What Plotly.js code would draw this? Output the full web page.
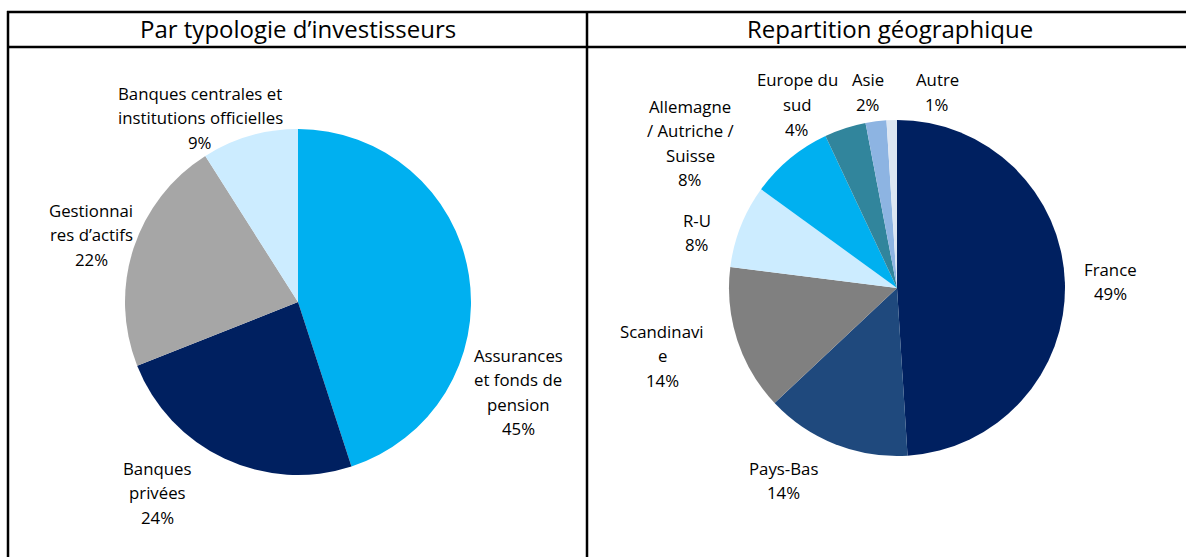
<!DOCTYPE html>
<html>
<head>
<meta charset="utf-8">
<script src="https://cdn.plot.ly/plotly-3.0.1.min.js"></script>
<style>html,body{margin:0;padding:0;background:#fff;}#chart{width:1186px;height:557px;}</style>
</head>
<body>
<div id="chart"></div>
<script>
// Left pie: by investor type
const investorLabels = ["Assurances et fonds de pension", "Banques privées", "Gestionnaires d’actifs", "Banques centrales et institutions officielles"];
const investorValues = [45, 24, 22, 9];
const investorColors = ["#00B0F0", "#002060", "#A6A6A6", "#CCECFF"];
const investorText = [["Assurances", "et fonds de", "pension", "45%"], ["Banques", "privées", "24%"], ["Gestionnai", "res d’actifs", "22%"], ["Banques centrales et", "institutions officielles", "9%"]];

// Right pie: geographic split
const geoLabels = ["France", "Pays-Bas", "Scandinavie", "R-U", "Allemagne / Autriche / Suisse", "Europe du sud", "Asie", "Autre"];
const geoValues = [49, 14, 14, 8, 8, 4, 2, 1];
const geoColors = ["#002060", "#1F497D", "#808080", "#CCECFF", "#00B0F0", "#31859C", "#8DB4E2", "#DCE6F2"];
const geoText = [["France", "49%"], ["Pays-Bas", "14%"], ["Scandinavi", "e", "14%"], ["R-U", "8%"], ["Allemagne", "/ Autriche /", "Suisse", "8%"], ["Europe du", "sud", "4%"], ["Asie", "2%"], ["Autre", "1%"]];

const titles = ["Par typologie d’investisseurs", "Repartition géographique"];

const W = 1186, H = 557;
const font = "'Open Sans', sans-serif";
const LH = 24.5;

// label anchor positions (pixels, centre of first line) – layout only
const investorPos = [[518, 355], [157, 468], [91, 210], [200, 93]];
const geoPos = [[1110, 269], [784, 468], [662, 331], [697, 220], [690, 106], [797, 80], [868, 80], [937, 80]];

function px(x) { return x / W; }
function py(y) { return 1 - y / H; }

const traces = [
  {
    type: "pie", values: investorValues, labels: investorLabels, sort: false,
    direction: "clockwise", rotation: 0, textinfo: "none", hoverinfo: "skip",
    marker: {colors: investorColors, line: {width: 0}},
    domain: {x: [px(125), px(471)], y: [py(475), py(129)]}, showlegend: false
  },
  {
    type: "pie", values: geoValues, labels: geoLabels, sort: false,
    direction: "clockwise", rotation: 0, textinfo: "none", hoverinfo: "skip",
    marker: {colors: geoColors, line: {width: 0}},
    domain: {x: [px(729), px(1065)], y: [py(456), py(120)]}, showlegend: false
  }
];

const annotations = [];
function addLabel(lines, pos) {
  lines.forEach((t, k) => annotations.push({
    text: t, x: px(pos[0]), y: py(pos[1] + k * LH), xref: "paper", yref: "paper",
    showarrow: false, xanchor: "center", yanchor: "middle", align: "center",
    font: {family: font, size: 16.8, color: "#000"}
  }));
}
investorText.forEach((t, i) => addLabel(t, investorPos[i]));
geoText.forEach((t, i) => addLabel(t, geoPos[i]));
annotations.push({text: titles[0], x: px(298), y: py(29), xref: "paper", yref: "paper", showarrow: false,
  xanchor: "center", yanchor: "middle", font: {family: font, size: 24, color: "#000"}});
annotations.push({text: titles[1], x: px(890), y: py(29), xref: "paper", yref: "paper", showarrow: false,
  xanchor: "center", yanchor: "middle", font: {family: font, size: 24, color: "#000"}});

const line = {color: "#000", width: 2.5};
const shapes = [
  {type: "line", xref: "paper", yref: "paper", x0: px(7), x1: 1, y0: py(12), y1: py(12), line},
  {type: "line", xref: "paper", yref: "paper", x0: px(7), x1: 1, y0: py(47), y1: py(47), line},
  {type: "line", xref: "paper", yref: "paper", x0: px(8), x1: px(8), y0: py(11), y1: 0, line},
  {type: "line", xref: "paper", yref: "paper", x0: px(587), x1: px(587), y0: py(11), y1: 0, line}
];

Plotly.newPlot("chart", traces, {
  width: W, height: H, margin: {l: 0, r: 0, t: 0, b: 0},
  paper_bgcolor: "#fff", plot_bgcolor: "#fff",
  annotations, shapes, showlegend: false
}, {staticPlot: true});
</script>
</body>
</html>
